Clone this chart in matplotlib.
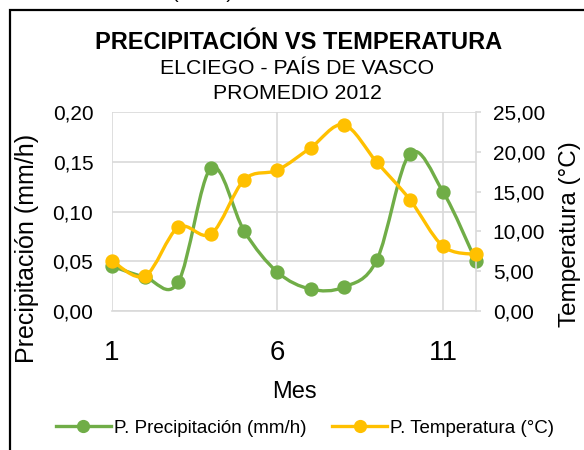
import matplotlib
matplotlib.use("Agg")
import matplotlib.pyplot as plt
from matplotlib.path import Path
from matplotlib.patches import PathPatch, Rectangle
from matplotlib.lines import Line2D
from matplotlib.ticker import FuncFormatter
import numpy as np

plt.rcParams['font.family'] = ['Liberation Sans', 'DejaVu Sans']

# ---- data ----
months = [1, 2, 3, 4, 5, 6, 7, 8, 9, 10, 11, 12]
precip = [0.045, 0.034, 0.029, 0.144, 0.080, 0.039, 0.022, 0.024, 0.051, 0.158, 0.120, 0.050]
temp = [6.3, 4.4, 10.5, 9.7, 16.5, 17.7, 20.5, 23.4, 18.7, 14.0, 8.15, 7.1]
x_ticks = [1, 6, 11]
left_ticks = [0.0, 0.05, 0.10, 0.15, 0.20]
right_ticks = [0, 5, 10, 15, 20, 25]

title = "PRECIPITACIÓN VS TEMPERATURA"
subtitle1 = "ELCIEGO - PAÍS DE VASCO"
subtitle2 = "PROMEDIO 2012"
xlabel = "Mes"
ylabel_left = "Precipitación (mm/h)"
ylabel_right = "Temperatura (°C)"
label_p = "P. Precipitación (mm/h)"
label_t = "P. Temperatura (°C)"

GREEN = "#70AD47"
YELLOW = "#FFC000"
GRID = "#D9D9D9"

W, H = 584, 450
fig = plt.figure(figsize=(W / 100, H / 100), dpi=100)


def fx(px):
    return px / W


def fy(py):
    return 1 - py / H


ax = fig.add_axes([fx(112), fy(311), fx(476) - fx(112), fy(112) - fy(311)])
ax2 = ax.twinx()


def smooth_path(xs, ys):
    xs = np.asarray(xs, float)
    ys = np.asarray(ys, float)
    n = len(xs)
    verts = [(xs[0], ys[0])]
    codes = [Path.MOVETO]
    for i in range(n - 1):
        i0 = max(i - 1, 0)
        i3 = min(i + 2, n - 1)
        c1 = (xs[i] + (xs[i + 1] - xs[i0]) / 6, ys[i] + (ys[i + 1] - ys[i0]) / 6)
        c2 = (xs[i + 1] - (xs[i3] - xs[i]) / 6, ys[i + 1] - (ys[i3] - ys[i]) / 6)
        verts += [c1, c2, (xs[i + 1], ys[i + 1])]
        codes += [Path.CURVE4] * 3
    return Path(verts, codes)


lw = 2.4
ms = 9.3
ax.add_patch(PathPatch(smooth_path(months, precip), fill=False, edgecolor=GREEN,
                       lw=lw, capstyle='round', joinstyle='round', clip_on=False, zorder=3))
ax.plot(months, precip, 'o', color=GREEN, ms=ms, clip_on=False, zorder=4)
ax2.add_patch(PathPatch(smooth_path(months, temp), fill=False, edgecolor=YELLOW,
                        lw=lw, capstyle='round', joinstyle='round', clip_on=False, zorder=3))
ax2.plot(months, temp, 'o', color=YELLOW, ms=ms, clip_on=False, zorder=4)

ax.set_xlim(1, 12)
ax.set_ylim(0, 0.20)
ax2.set_ylim(0, 25)
ax.set_xticks(x_ticks)
ax.set_yticks(left_ticks)
ax2.set_yticks(right_ticks)

fmt = FuncFormatter(lambda v, p: f"{v:.2f}".replace('.', ','))
ax.yaxis.set_major_formatter(fmt)
ax2.yaxis.set_major_formatter(fmt)

ax.grid(True, color=GRID, lw=1.2)
ax.set_axisbelow(True)

for a in (ax, ax2):
    for s in a.spines.values():
        s.set_visible(False)
    a.set_facecolor('none')
ax2.spines['right'].set_visible(True)
ax2.spines['right'].set_color(GRID)
ax2.spines['right'].set_linewidth(1.2)
ax.spines['bottom'].set_visible(True)
ax.spines['bottom'].set_color(GRID)
ax.spines['bottom'].set_linewidth(1.2)

ax.tick_params(axis='y', length=0, pad=13.5, labelsize=15)
ax.tick_params(axis='x', length=0, pad=21, labelsize=20)
ax2.tick_params(axis='y', length=3.6, width=1.2, color=GRID, pad=8.5, labelsize=15)

# axis titles
fig.text(fx(294), fy(398), xlabel, ha='center', va='baseline', fontsize=17)
fig.text(fx(27), fy(248), ylabel_left, ha='center', va='center', rotation=90,
         rotation_mode='anchor', fontsize=18)
fig.text(fx(570), fy(234), ylabel_right, ha='center', va='center', rotation=90,
         rotation_mode='anchor', fontsize=17.5)

# titles
fig.text(fx(299), fy(49), title, ha='center', va='baseline', fontsize=17, fontweight='bold')
fig.text(fx(297.5), fy(74.3), subtitle1, ha='center', va='baseline', fontsize=15.3)
fig.text(fx(297.5), fy(99), subtitle2, ha='center', va='baseline', fontsize=15.3)

# legend
handles = [Line2D([], [], color=GREEN, lw=lw, marker='o', ms=8.5),
           Line2D([], [], color=YELLOW, lw=lw, marker='o', ms=8.5)]
fig.legend(handles, [label_p, label_t], loc='center', bbox_to_anchor=(fx(305), fy(428)),
           ncol=2, frameon=False, fontsize=13.5, handlelength=2.93, handletextpad=0.16,
           columnspacing=1.39)

# outer chart border (cut off by image edges)
fig.patches.append(Rectangle((fx(10), fy(460)), fx(600), fy(10) - fy(460), transform=fig.transFigure,
                             fill=False, edgecolor='black', lw=1.6, clip_on=False))

# cut-off caption fragment above the chart
fig.text(fx(172), fy(-1.5), "(mm/h)", ha='left', va='baseline', fontsize=14)

fig.savefig("out.png", dpi=100)
